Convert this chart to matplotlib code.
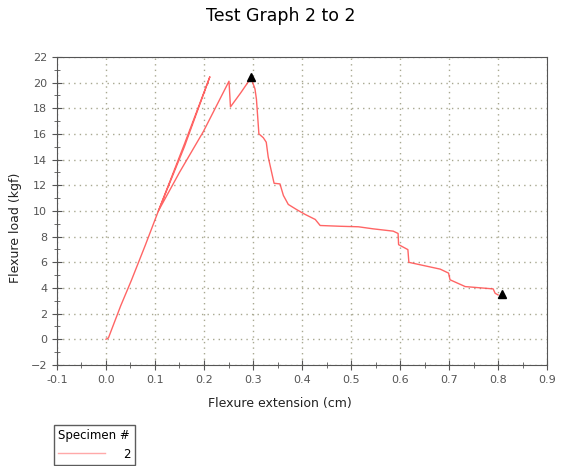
import matplotlib
matplotlib.use('Agg')
import matplotlib.pyplot as plt
from matplotlib.ticker import MultipleLocator

# Specimen 2 trace (extension cm, load kgf)
ext = [0.0, 0.005, 0.03, 0.052, 0.08, 0.107, 0.16, 0.212, 0.16, 0.107,
       0.15, 0.199, 0.251, 0.254, 0.275, 0.296, 0.304, 0.307, 0.312, 0.321,
       0.327, 0.331, 0.338, 0.343, 0.355, 0.362, 0.372, 0.389, 0.406, 0.427,
       0.437, 0.478, 0.515, 0.545, 0.586, 0.596, 0.597, 0.616, 0.618, 0.641,
       0.682, 0.699, 0.702, 0.733, 0.790, 0.794, 0.800]
load = [0.0, 0.1, 2.6, 4.6, 7.3, 10.0, 15.2, 20.45, 15.0, 10.0,
        13.0, 16.2, 20.1, 18.1, 19.2, 20.37, 19.5, 18.7, 16.0, 15.7,
        15.35, 14.2, 13.0, 12.15, 12.1, 11.2, 10.5, 10.1, 9.73, 9.33,
        8.86, 8.8, 8.76, 8.6, 8.42, 8.24, 7.37, 6.98, 5.99, 5.8,
        5.46, 5.15, 4.63, 4.1, 3.92, 3.58, 3.45]
mark_x = [0.296, 0.808]
mark_y = [20.45, 3.5]

fig = plt.figure(figsize=(5.64, 4.66), dpi=100)
ax = fig.add_axes([0.101, 0.217, 0.869, 0.661])

line, = ax.plot(ext, load, color='#ff4a4a', lw=1.0, alpha=0.85)
ax.plot(mark_x, mark_y, '^', color='black', ms=6, lw=0)

ax.set_xlim(-0.1, 0.9)
ax.set_ylim(-2, 22)
ax.xaxis.set_major_locator(MultipleLocator(0.1))
ax.xaxis.set_minor_locator(MultipleLocator(0.05))
ax.yaxis.set_major_locator(MultipleLocator(2))
ax.yaxis.set_minor_locator(MultipleLocator(1))
ax.set_xticklabels([f'{v:.1f}' for v in ax.get_xticks()])
ax.tick_params(which='both', direction='inout', colors='#555555', labelsize=8,
               top=False, right=False)
ax.tick_params(which='major', length=7)
ax.tick_params(which='minor', length=5)
ax.grid(True, which='major', ls=(0, (1, 3)), color='#a8a890', lw=1)
for s in ax.spines.values():
    s.set_color('#555555')

ax.set_xlabel('Flexure extension (cm)', fontsize=9, color='#222222', labelpad=9)
ax.set_ylabel('Flexure load (kgf)', fontsize=9, color='#222222', labelpad=3)
# labels sit a bit off-centre in the original
ax.xaxis.set_label_coords(0.455, -0.105)
ax.yaxis.set_label_coords(-0.072, 0.445)
fig.suptitle('Test Graph 2 to 2', fontsize=12.5, y=0.985, x=0.497)

leg = fig.legend([line], ['2'], title='Specimen #', loc='lower left',
                 bbox_to_anchor=(0.085, -0.01), fontsize=8.5, title_fontsize=8.5,
                 frameon=True, fancybox=False, edgecolor='#333333',
                 handlelength=4, handletextpad=1.5, borderpad=0.35)
leg.get_lines()[0].set_color('#ff9a9a')

fig.savefig('out.png', dpi=100)
